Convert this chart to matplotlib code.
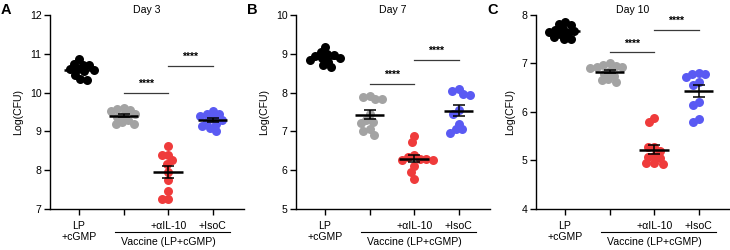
import numpy as np
import matplotlib
matplotlib.use("Agg")
import matplotlib.pyplot as plt

plt.rcParams['font.family'] = ['Liberation Sans', 'DejaVu Sans']

panels = ["A", "B", "C"]
titles = ["Day 3", "Day 7", "Day 10"]
ylims = [(7, 12), (5, 10), (4, 8)]
group_colors = ["#000000", "#A3A3A3", "#EF3B3B", "#5A5AF3"]
xticklabels = ["LP\n+cGMP", "", "+αIL-10", "+IsoC"]
bracket_label = "Vaccine (LP+cGMP)"
sig_label = "****"

day3_lp = [10.86, 10.74, 10.72, 10.70, 10.62, 10.60, 10.58, 10.55, 10.45, 10.35, 10.33]
day3_vac = [9.60, 9.58, 9.55, 9.52, 9.45, 9.42, 9.38, 9.30, 9.25, 9.20, 9.20]
day3_il10 = [8.62, 8.39, 8.39, 8.26, 8.15, 7.96, 7.75, 7.47, 7.25, 7.25]
day3_isoc = [9.52, 9.45, 9.45, 9.40, 9.35, 9.30, 9.28, 9.20, 9.15, 9.10, 9.00]
day3_brackets = [10.0, 10.69]

day7_lp = [9.18, 9.05, 9.00, 8.97, 8.95, 8.90, 8.88, 8.85, 8.80, 8.70, 8.65]
day7_vac = [7.92, 7.89, 7.84, 7.84, 7.45, 7.30, 7.25, 7.22, 7.05, 7.00, 6.92]
day7_il10 = [6.88, 6.72, 6.40, 6.35, 6.30, 6.28, 6.27, 6.25, 6.10, 5.95, 5.77]
day7_isoc = [8.10, 8.05, 7.97, 7.95, 7.55, 7.45, 7.20, 7.05, 7.05, 6.97]
day7_brackets = [8.22, 8.84]

day10_lp = [7.85, 7.82, 7.80, 7.72, 7.70, 7.68, 7.65, 7.62, 7.60, 7.55, 7.50, 7.50]
day10_vac = [7.00, 6.97, 6.95, 6.93, 6.92, 6.90, 6.85, 6.78, 6.75, 6.68, 6.65, 6.62]
day10_il10 = [5.87, 5.80, 5.28, 5.27, 5.20, 5.10, 5.08, 5.05, 4.95, 4.95, 4.93]
day10_isoc = [6.80, 6.78, 6.78, 6.72, 6.62, 6.55, 6.20, 6.15, 5.85, 5.80]
day10_brackets = [7.23, 7.70]

data = [
    [day3_lp, day3_vac, day3_il10, day3_isoc],
    [day7_lp, day7_vac, day7_il10, day7_isoc],
    [day10_lp, day10_vac, day10_il10, day10_isoc],
]
brackets = [day3_brackets, day7_brackets, day10_brackets]

W, H = 730, 250
fig = plt.figure(figsize=(W / 100, H / 100), dpi=100)

ax_left_px = [50, 296, 536]
ax_w_px = 194
ax_top_px = 15
ax_bot_px = 209
xlim = (-0.65, 3.7)


def swarm(yvals, px_per_y, px_per_x, d=6.6):
    ys = np.asarray(yvals, float) * px_per_y
    order = np.argsort(-ys)
    placed = []
    xs = np.zeros(len(ys))
    for i in order:
        y = ys[i]
        cands = [0.0]
        for (xj, yj) in placed:
            dy = y - yj
            if abs(dy) < d:
                dx = np.sqrt(d * d - dy * dy)
                cands += [xj + dx, xj - dx]
        cands = sorted(cands, key=lambda c: (abs(c), c))
        for c in cands:
            ok = all((c - xj) ** 2 + (y - yj) ** 2 >= d * d - 1e-6 for (xj, yj) in placed)
            if ok:
                xs[i] = c
                placed.append((c, y))
                break
    return xs / px_per_x


fs = 7.6
for p in range(3):
    left = ax_left_px[p] / W
    bottom = (H - ax_bot_px) / H
    ax = fig.add_axes([left, bottom, ax_w_px / W, (ax_bot_px - ax_top_px) / H])
    y0, y1 = ylims[p]
    ax.set_xlim(*xlim)
    ax.set_ylim(y0, y1)
    px_per_y = (ax_bot_px - ax_top_px) / (y1 - y0)
    px_per_x = ax_w_px / (xlim[1] - xlim[0])
    for g, vals in enumerate(data[p]):
        offs = swarm(vals, px_per_y, px_per_x)
        ax.scatter(g + offs, vals, s=42, color=group_colors[g], linewidths=0, zorder=2, clip_on=False)
        v = np.asarray(vals)
        m = v.mean()
        sem = v.std(ddof=1) / np.sqrt(len(v))
        ax.plot([g - 0.33, g + 0.33], [m, m], color="black", lw=1.8, zorder=4, solid_capstyle="butt")
        ax.errorbar([g], [m], yerr=[sem], fmt="none", ecolor="black", elinewidth=1.1,
                    capsize=4.5, capthick=1.1, zorder=4)
    # significance brackets
    for k, yb in enumerate(brackets[p]):
        xa, xb = 1 + k, 2 + k
        ax.plot([xa, xb], [yb, yb], color="#3a3a3a", lw=0.9, zorder=3)
        ax.text((xa + xb) / 2, yb + 0.02 * (y1 - y0), sig_label, ha="center", va="bottom",
                fontsize=fs, fontweight="bold", color="black")
    for s in ["top", "right"]:
        ax.spines[s].set_visible(False)
    for s in ["left", "bottom"]:
        ax.spines[s].set_linewidth(1.0)
    ax.set_yticks(np.arange(y0, y1 + 1))
    ax.tick_params(axis="y", length=4.5, width=1.0, labelsize=fs, pad=1.5)
    ax.set_xticks(range(4))
    ax.set_xticklabels(xticklabels, fontsize=fs, linespacing=1.1)
    ax.tick_params(axis="x", length=4.5, width=1.0, pad=4)
    ax.set_ylabel("Log(CFU)", fontsize=fs, labelpad=5)
    ax.set_title(titles[p], fontsize=fs, pad=1.5)
    # vaccine group bracket under axis
    ax.plot([0.8, 3.38], [-0.118, -0.118], transform=ax.get_xaxis_transform(), color="black",
            lw=0.8, clip_on=False)
    ax.text(2.0, -0.145, bracket_label, transform=ax.get_xaxis_transform(), ha="center",
            va="top", fontsize=fs)
    fig.text((ax_left_px[p] - 49) / W, 1 - 3 / H, panels[p], fontsize=10.5, fontweight="bold",
             ha="left", va="top")

fig.savefig("out.png", dpi=100)
